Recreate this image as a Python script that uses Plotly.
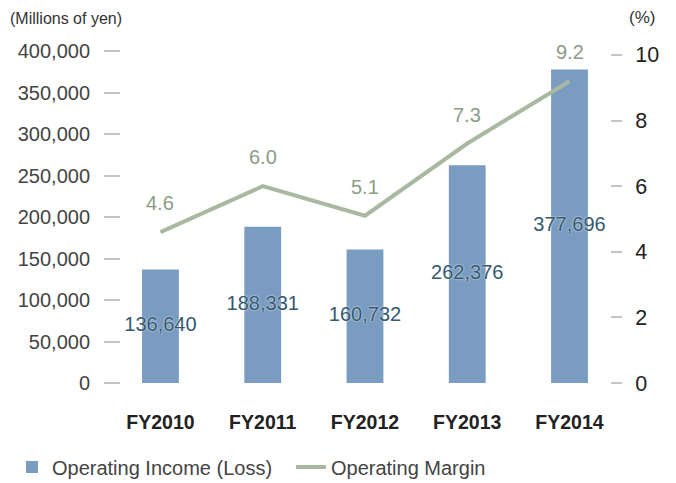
import plotly.graph_objects as go

years = ["FY2010", "FY2011", "FY2012", "FY2013", "FY2014"]
income = [136640, 188331, 160732, 262376, 377696]
margin = [4.6, 6.0, 5.1, 7.3, 9.2]

left_ticks = [0, 50000, 100000, 150000, 200000, 250000, 300000, 350000, 400000]
left_text = ["0", "50,000", "100,000", "150,000", "200,000", "250,000", "300,000", "350,000", "400,000"]
right_ticks = [0, 2, 4, 6, 8, 10]

font = "Liberation Sans, Arial, sans-serif"

fig = go.Figure()
fig.add_trace(go.Bar(x=years, y=income, name="Operating Income (Loss)",
                     marker=dict(color="#7a9cc1", line=dict(width=0)), width=0.36))
# value labels in the middle of each bar (scatter so they are not shrunk to bar width)
fig.add_trace(go.Scatter(x=years, y=[v / 2 for v in income], mode="text",
                         text=[f"{v:,}" for v in income], showlegend=False,
                         textfont=dict(family=font, size=20, color="#34596f",
                                       shadow="0px 0px 2px #ffffff"),
                         hoverinfo="skip"))
fig.add_trace(go.Scatter(x=years, y=margin, name="Operating Margin", yaxis="y2",
                         mode="lines", line=dict(color="#a9b9a1", width=4)))

for yr, m in zip(years, margin):
    fig.add_annotation(x=yr, y=m, yref="y2", text=f"{m:.1f}", showarrow=False,
                       yshift=29, font=dict(family=font, size=20, color="#8a9c85"))

fig.add_annotation(x=0, xref="paper", xanchor="left", xshift=-113, y=1, yref="paper",
                   yanchor="bottom", yshift=22, text="(Millions of yen)", showarrow=False,
                   font=dict(family=font, size=16, color="#333"))
fig.add_annotation(x=1, xref="paper", xanchor="left", xshift=17, y=1, yref="paper",
                   yanchor="bottom", yshift=22, text="(%)", showarrow=False,
                   font=dict(family=font, size=17, color="#333"))

fig.update_layout(
    width=676, height=483,
    margin=dict(l=113, r=74, t=43, b=108, autoexpand=False),
    plot_bgcolor="white", paper_bgcolor="white",
    font=dict(family=font, size=20, color="#444"),
    xaxis=dict(range=[-0.386, 4.396], showgrid=False, showline=False, ticks="",
               tickfont=dict(size=19.5, color="#222", weight="bold"), ticklabelstandoff=25),
    yaxis=dict(range=[0, 400000], tickvals=left_ticks, ticktext=left_text,
               showgrid=False, zeroline=False, showline=False,
               ticks="outside", ticklen=16, tickcolor="#c4c4c4", tickwidth=1.5,
               ticklabelstandoff=10, tickfont=dict(size=20, color="#444")),
    yaxis2=dict(range=[0, 10.12], overlaying="y", side="right", tickvals=right_ticks,
                showgrid=False, zeroline=False, showline=False,
                ticks="outside", ticklen=11, tickcolor="#c4c4c4", tickwidth=1.5,
                ticklabelstandoff=9, tickfont=dict(size=21.5, color="#222")),
    legend=dict(orientation="h", x=-0.223, xanchor="left", y=-0.253,
                yanchor="middle", font=dict(size=20, color="#444"),
                entrywidth=234, entrywidthmode="pixels", traceorder="normal"),
    showlegend=True,
)

fig.write_html("out.html")
